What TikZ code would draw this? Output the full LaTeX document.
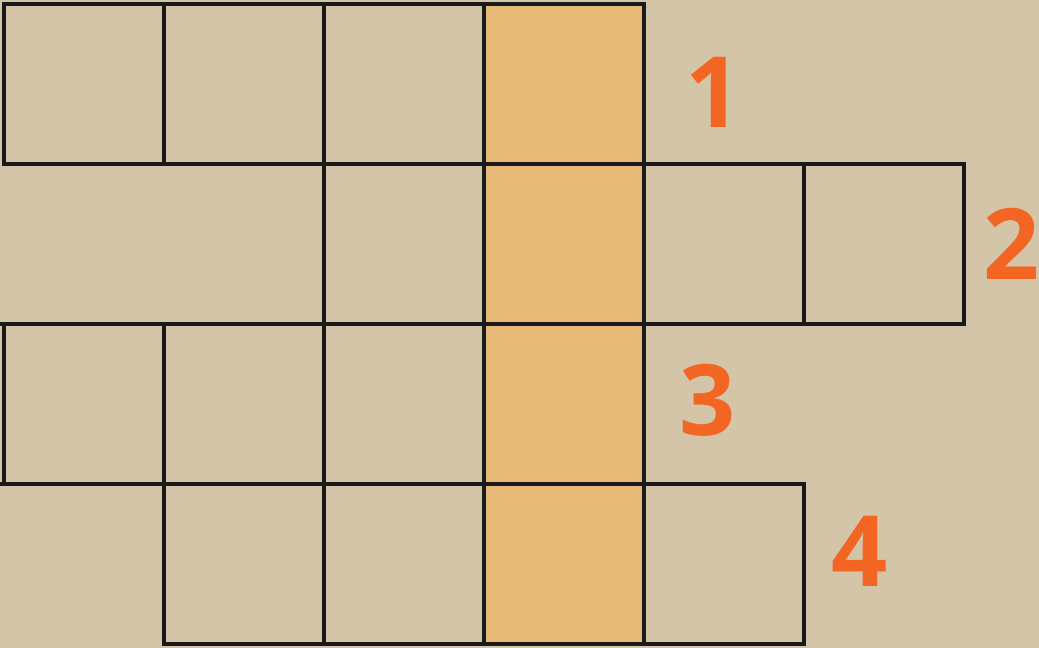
\documentclass[tikz,border=0pt]{standalone}
\usepackage{fontspec}
\newfontfamily\numfont{Open Sans}
\definecolor{paper}{HTML}{D4C4A8}
\definecolor{sand}{HTML}{E7B977}
\definecolor{clue}{HTML}{F26522}
\definecolor{ink}{HTML}{1A1A1A}
\begin{document}
\begin{tikzpicture}[x=1cm,y=1cm,
  cell/.style={draw=ink,line width=1pt,minimum size=1.6cm,inner sep=0pt,outer sep=0pt},
  hot/.style={cell,fill=sand},
  rule/.style={draw=ink,line width=1pt},
  num/.style={text=clue,font=\numfont\bfseries\fontsize{28}{28}\selectfont,inner sep=0pt}]
\fill[paper] (0,0) rectangle (10.39,6.48);
\useasboundingbox (0,0) rectangle (10.39,6.48);
% row 1
\foreach \c in {0,1,2}
  \node[cell] (c-1-\c) at ({0.84+1.6*\c},5.64) {};
\node[hot] (c-1-3) at (5.64,5.64) {};
% row 2
\node[cell] (c-2-2) at (4.04,4.04) {};
\node[hot] (c-2-3) at (5.64,4.04) {};
\foreach \c in {4,5}
  \node[cell] (c-2-\c) at ({0.84+1.6*\c},4.04) {};
% row 3
\foreach \c in {0,1,2}
  \node[cell] (c-3-\c) at ({0.84+1.6*\c},2.44) {};
\node[hot] (c-3-3) at (5.64,2.44) {};
% row 4
\foreach \c in {1,2}
  \node[cell] (c-4-\c) at ({0.84+1.6*\c},0.84) {};
\node[hot] (c-4-3) at (5.64,0.84) {};
\node[cell] (c-4-4) at (7.24,0.84) {};
\draw[rule] (c-3-0.north west) -- ++(-0.04,0);
\draw[rule] (c-3-0.south west) -- ++(-0.04,0);
% clue numbers
\node[num] (n-1) at ([xshift=0.70cm,yshift=-0.08cm]c-1-3.east) {1};
\node[num] (n-2) at ([xshift=0.48cm]c-2-5.east) {2};
\node[num] (n-3) at ([xshift=0.64cm,yshift=0.04cm]c-3-3.east) {3};
\node[num] (n-4) at ([xshift=0.56cm,yshift=0.13cm]c-4-4.east) {4};
\end{tikzpicture}
\end{document}
